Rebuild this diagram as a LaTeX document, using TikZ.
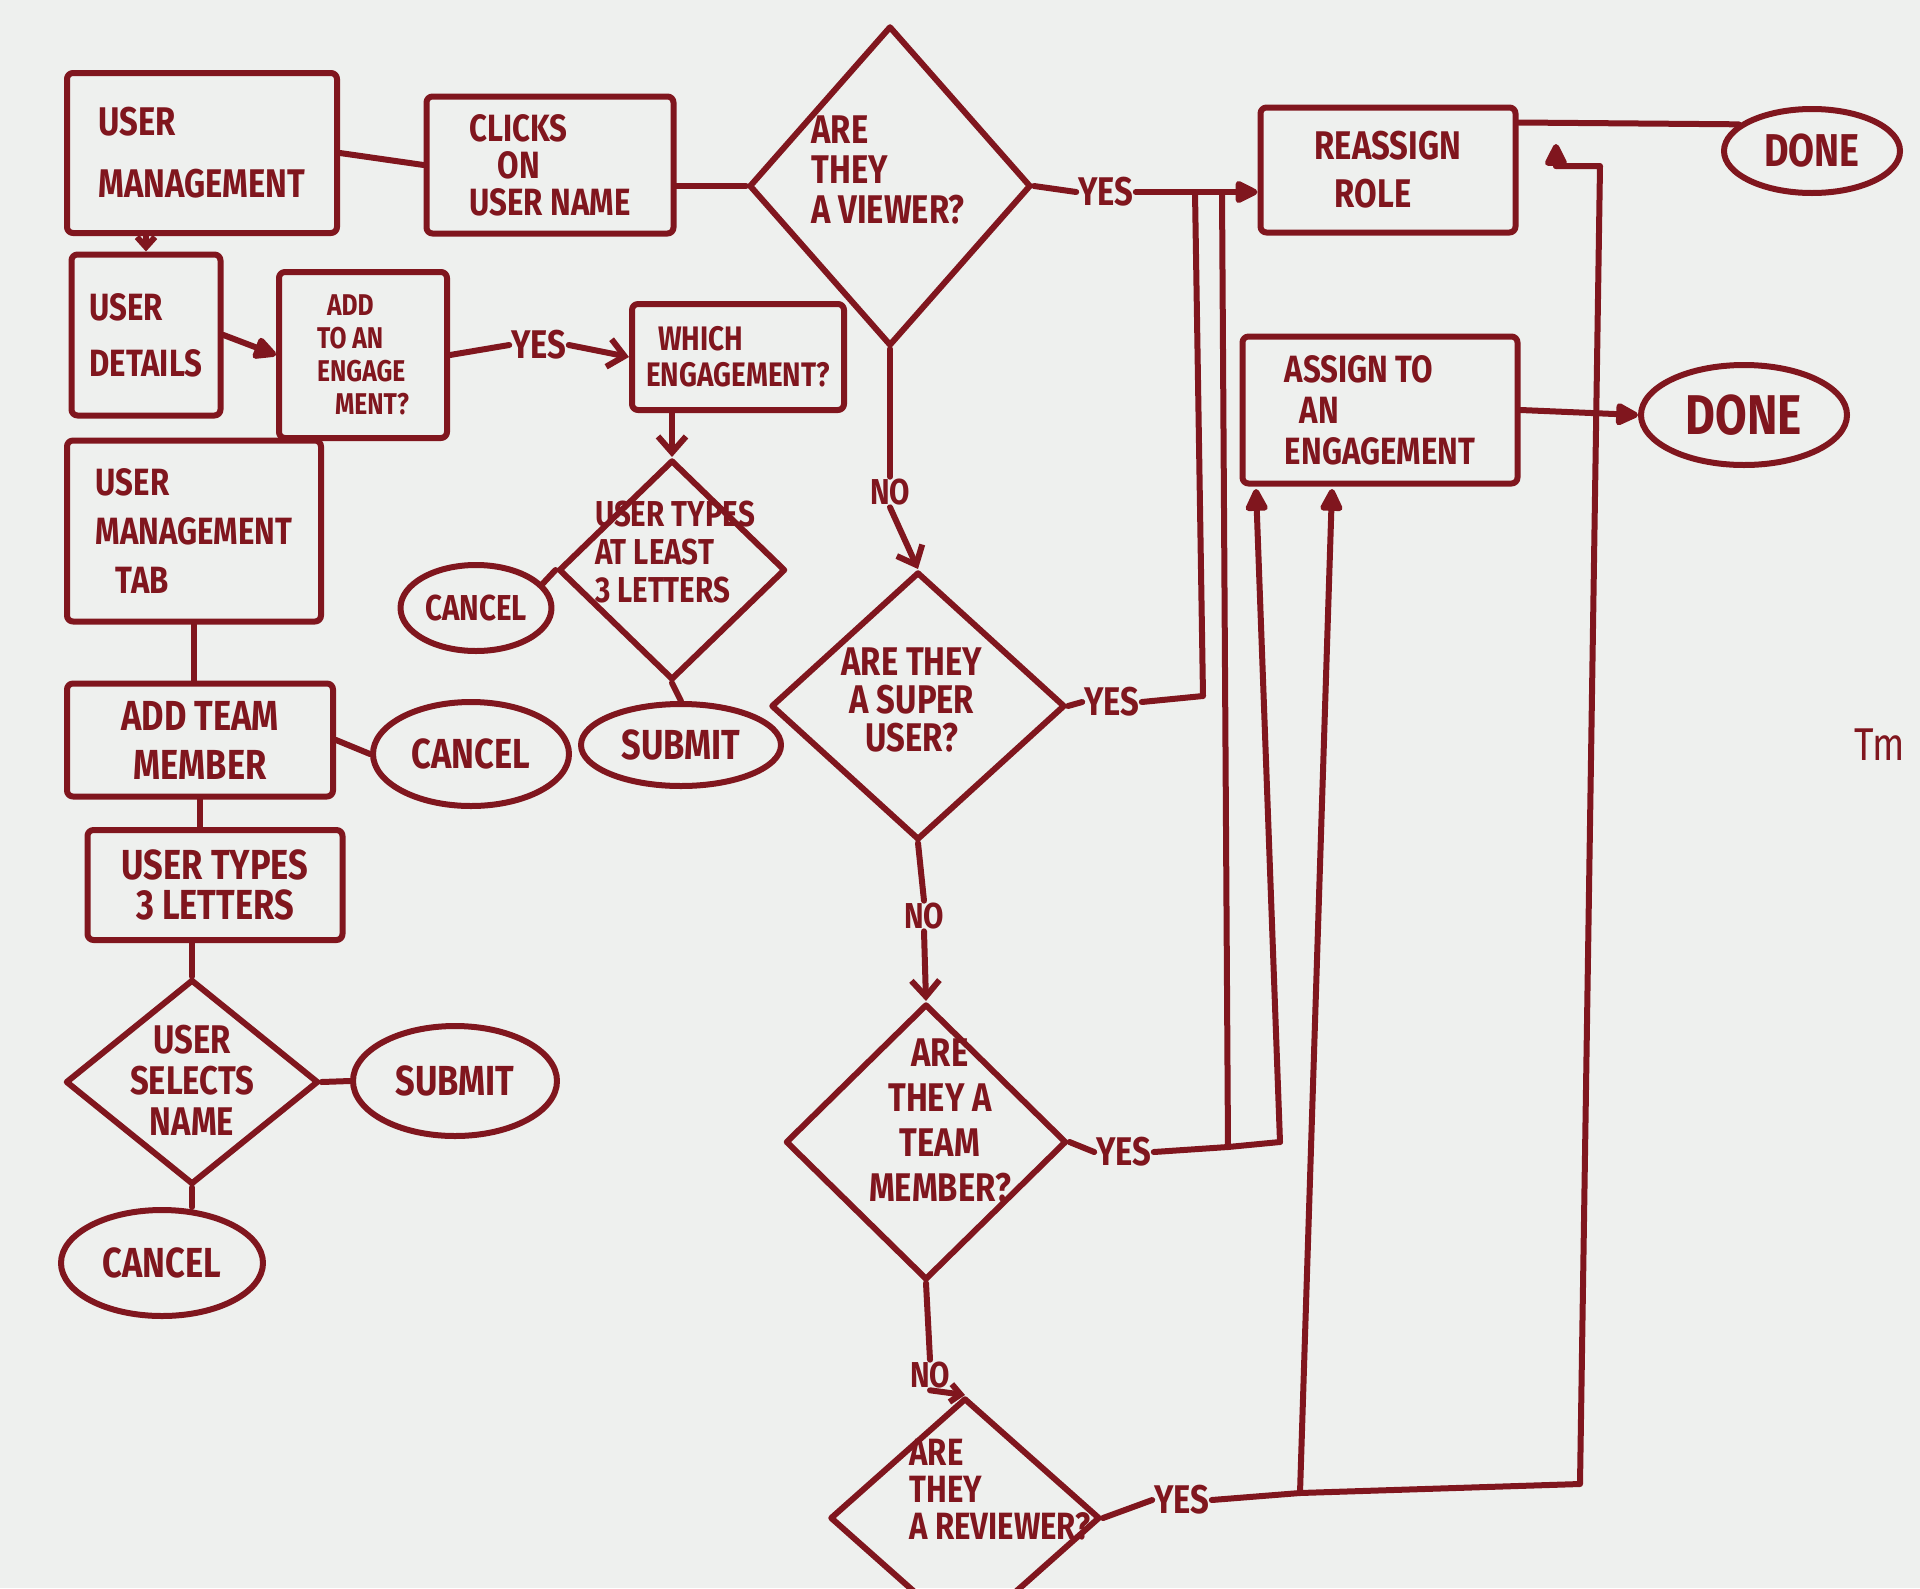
\documentclass[tikz,border=0pt]{standalone}
\usepackage{fontspec}
\setmainfont{Fira Sans}[FakeStretch=0.82]
\usetikzlibrary{shapes.geometric,arrows.meta}
\definecolor{ink}{RGB}{128,22,30}
\definecolor{board}{RGB}{238,240,238}
\newcommand\hwf[2]{\fontsize{#1}{#2}\selectfont\bfseries}
\begin{document}
\begin{tikzpicture}[x=1pt,y=-1pt,
  pen/.style={draw=ink,line width=6pt,line cap=round,line join=round},
  box/.style={pen,rectangle,rounded corners=6pt,inner sep=0pt,text=ink,align=left},
  oval/.style={pen,ellipse,inner sep=0pt,text=ink},
  dia/.style={pen,diamond,inner sep=0pt},
  lbl/.style={text=ink,inner sep=2pt,align=left},
  arrv/.style={pen,-{Straight Barb[length=16pt,width=28pt]}},
  arrs/.style={pen,-{Straight Barb[length=10pt,width=18pt]}},
  arrt/.style={pen,-{Triangle[length=26pt,width=24pt,round]}},
]
\fill[board] (0,0) rectangle (1920,1588);
\useasboundingbox (0,0) rectangle (1920,1588);

% left column and top row
\node[box,minimum width=270pt,minimum height=160pt,font=\hwf{40}{62}] (um) at (202,153) {USER\\MANAGEMENT};
\node[box,minimum width=247pt,minimum height=137pt,font=\hwf{38}{37}] (clicks) at (550,165) {CLICKS\\\hspace*{28pt}ON\\USER NAME};
\node[dia,minimum width=282pt,minimum height=320pt] (viewer) at (890,186) {};
\node[lbl,font=\hwf{40}{40}] (viewert) at (888,170) {ARE\\THEY\\A VIEWER?};
\node[box,minimum width=255pt,minimum height=125pt,font=\hwf{40}{48}] (reassign) at (1388,170) {REASSIGN\\\hspace*{20pt}ROLE};
\node[oval,minimum width=176pt,minimum height=84pt,font=\hwf{46}{50}] (done1) at (1812,151) {DONE};
\node[box,minimum width=275pt,minimum height=147pt,font=\hwf{38}{41}] (assign) at (1380,410) {ASSIGN TO\\\hspace*{15pt}AN\\ENGAGEMENT};
\node[oval,minimum width=206pt,minimum height=100pt,font=\hwf{56}{60}] (done2) at (1744,415) {DONE};

\node[box,minimum width=149pt,minimum height=161pt,font=\hwf{38}{56}] (details) at (146,335) {USER\\DETAILS};
\node[box,minimum width=168pt,minimum height=166pt,font=\hwf{30}{33}] (addeng) at (363,355) {\hspace*{10pt}ADD\\TO AN\\ENGAGE\\\hspace*{18pt}MENT?};
\node[box,minimum width=212pt,minimum height=106pt,font=\hwf{34}{36}] (which) at (738,357) {\hspace*{12pt}WHICH\\ENGAGEMENT?};
\node[dia,minimum width=227pt,minimum height=220pt] (types3) at (672,570) {};
\node[lbl,font=\hwf{36}{38}] (types3t) at (675,552) {USER TYPES\\AT LEAST\\3 LETTERS};
\node[oval,minimum width=151pt,minimum height=86pt,font=\hwf{36}{40}] (cancel1) at (476,608) {CANCEL};
\node[oval,minimum width=200pt,minimum height=82pt,font=\hwf{42}{46}] (submit1) at (681,745) {SUBMIT};

\node[box,minimum width=254pt,minimum height=181pt,font=\hwf{38}{49}] (umtab) at (194,531) {USER\\MANAGEMENT\\\hspace*{20pt}TAB};
\node[box,minimum width=266pt,minimum height=113pt,font=\hwf{42}{49},align=center] (addtm) at (200,740) {ADD TEAM\\MEMBER};
\node[oval,minimum width=196pt,minimum height=104pt,font=\hwf{42}{46}] (cancel2) at (471,754) {CANCEL};
\node[box,minimum width=255pt,minimum height=110pt,font=\hwf{42}{40},align=center] (types) at (215,885) {USER TYPES\\3 LETTERS};
\node[dia,minimum width=253pt,minimum height=205pt] (selects) at (192,1082) {};
\node[lbl,font=\hwf{40}{41},align=center] (selectst) at (192,1080) {USER\\SELECTS\\NAME};
\node[oval,minimum width=204pt,minimum height=110pt,font=\hwf{42}{46}] (submit2) at (455,1081) {SUBMIT};
\node[oval,minimum width=202pt,minimum height=106pt,font=\hwf{42}{46}] (cancel3) at (162,1263) {CANCEL};

% decision chain
\node[dia,minimum width=294pt,minimum height=268pt] (super) at (918,706) {};
\node[lbl,font=\hwf{40}{38},align=center] (supert) at (912,700) {ARE THEY\\A SUPER\\USER?};
\node[dia,minimum width=281pt,minimum height=276pt] (team) at (926,1142) {};
\node[lbl,font=\hwf{40}{45},align=center] (teamt) at (940,1120) {ARE\\THEY A\\TEAM\\MEMBER?};
\node[dia,minimum width=270pt,minimum height=240pt] (reviewer) at (965,1518) {};
\node[lbl,font=\hwf{38}{37}] (reviewert) at (1000,1490) {ARE\\THEY\\A REVIEWER?};

% labels
\node[lbl,font=\hwf{40}{40}] (yesae) at (539,345) {YES};
\node[lbl,font=\hwf{40}{40}] (yes1) at (1106,192) {YES};
\node[lbl,font=\hwf{36}{40}] (no1) at (890,492) {NO};
\node[lbl,font=\hwf{40}{40}] (yes2) at (1112,702) {YES};
\node[lbl,font=\hwf{36}{40}] (no2) at (924,916) {NO};
\node[lbl,font=\hwf{40}{40}] (yes3) at (1124,1152) {YES};
\node[lbl,font=\hwf{36}{40}] (no3) at (930,1375) {NO};
\node[lbl,font=\hwf{40}{40}] (yes4) at (1182,1500) {YES};
\node[lbl,font=\fontsize{46}{50}\selectfont,anchor=west] (tm) at (1852,745) {Tm};

% junction coordinates
\coordinate (j1) at (1195,192);
\coordinate (j2) at (1222,192);
\coordinate (s1) at (1203,696);
\coordinate (t1) at (1228,1147);
\coordinate (t2) at (1280,1142);
\coordinate (a1) at (1256,489);
\coordinate (r1) at (1300,1493);
\coordinate (r2) at (1580,1484);
\coordinate (r3) at (1600,166);
\coordinate (r4) at (1556,166);
\coordinate (r5) at (1556,144);
\coordinate (a2) at (1332,489);

% connectors
\draw[arrs] (details.north |- um.south) -- (details.north);
\draw[arrt] (details.east) -- (addeng.west);
\draw[pen] (addeng.east) -- (yesae.west);
\draw[arrv] (yesae.east) -- (which.west);
\draw[pen] (um.east) -- (clicks.west);
\draw[pen] (clicks.east |- viewer.west) -- (viewer.west);
\draw[pen] (viewer.east) -- (yes1.west);
\draw[arrt] (yes1.east) -- (reassign.west |- yes1.east);
\draw[pen] (viewer.south) -- (no1.north);
\draw[arrv] (no1.south) -- (super.north);
\draw[arrv] (types3.north |- which.south) -- (types3.north);
\draw[pen] (types3.west) -- (cancel1.20);
\draw[pen] (types3.south) -- (submit1.north);
\draw[pen] (umtab.south) -- (umtab.south |- addtm.north);
\draw[pen] (addtm.east) -- (cancel2.west);
\draw[pen] (addtm.south) -- (addtm.south |- types.north);
\draw[pen] (selects.north |- types.south) -- (selects.north);
\draw[pen] (selects.east) -- (submit2.west);
\draw[pen] (selects.south) -- (selects.south |- cancel3.north);
\draw[pen] (super.south) -- (no2.north);
\draw[arrv] (no2.south) -- (team.north);
\draw[pen] (team.south) -- (no3.north);
\draw[arrs] (no3.south) -- (reviewer.north);
\draw[pen] (super.east) -- (yes2.west);
\draw[pen] (yes2.east) -- (s1) -- (j1);
\draw[pen] (team.east) -- (yes3.west);
\draw[pen] (yes3.east) -- (t1) -- (t2);
\draw[pen] (t1) -- (j2);
\draw[arrt] (t2) -- (a1);
\draw[pen] (reviewer.east) -- (yes4.west);
\draw[pen] (yes4.east) -- (r1) -- (r2) -- (r3) -- (r4);
\draw[arrt] (r4) -- (r5);
\draw[arrt] (r1) -- (a2);
\draw[pen] (reassign.20) -- (done1.160);
\draw[arrt] (assign.east) -- (done2.west);
\end{tikzpicture}
\end{document}
